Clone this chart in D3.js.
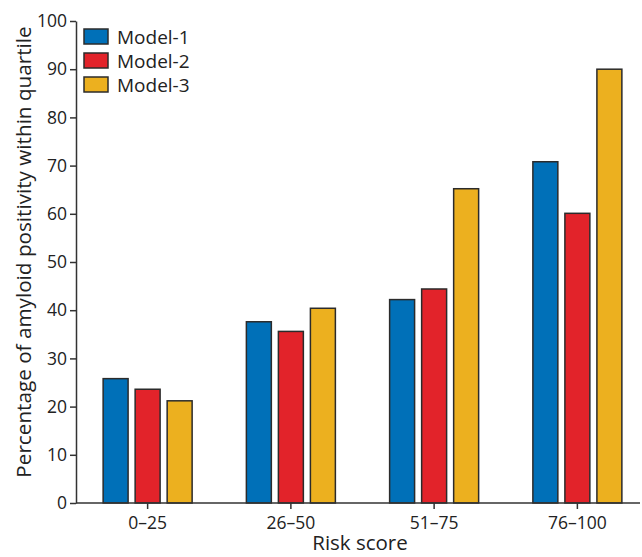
<!DOCTYPE html>
<html><head><meta charset="utf-8">
<script src="https://cdn.jsdelivr.net/npm/d3@7"></script>
<style>body{margin:0;background:#fff}svg{display:block;font-family:"Open Sans",sans-serif}</style>
</head><body><svg id="c" width="642" height="557"></svg>
<script>
const categories = ["0–25","26–50","51–75","76–100"];
const seriesNames = ["Model-1","Model-2","Model-3"];
const model1 = [25.8, 37.6, 42.2, 70.8];
const model2 = [23.6, 35.6, 44.4, 60.1];
const model3 = [21.2, 40.4, 65.2, 90.0];
const yTicks = [0,10,20,30,40,50,60,70,80,90,100];
const colors = ["#0070b8","#e2232a","#ecb01f"];
const series = [model1, model2, model3];

const svg = d3.select("#c");
const axisColor = "#333";
const x0 = d3.scaleBand().domain(categories).range([76, 649]).padding(0);
const x1 = d3.scaleBand().domain(seriesNames).range([0, 89]).paddingInner(0.22).paddingOuter(0);
const y = d3.scaleLinear().domain([0,100]).range([503, 21]);

const groups = svg.append("g").selectAll("g").data(categories).join("g")
  .attr("transform", c => `translate(${x0(c) + x0.bandwidth()/2 - 44.5},0)`);
groups.selectAll("rect").data((c,i) => seriesNames.map((s,j) => ({s, j, v: series[j][i]})))
  .join("rect")
  .attr("x", d => x1(d.s)).attr("width", x1.bandwidth())
  .attr("y", d => y(d.v)).attr("height", d => y(0) - y(d.v))
  .attr("fill", d => colors[d.j]).attr("stroke", "#2b2b2b").attr("stroke-width", 1.5);

// y axis
const ya = svg.append("g").attr("transform","translate(76,0)")
  .call(d3.axisLeft(y).tickValues(yTicks).tickSize(6).tickPadding(3).tickSizeOuter(0));
ya.select(".domain").attr("stroke", axisColor).attr("stroke-width", 1.5);
ya.selectAll(".tick line").attr("stroke", axisColor).attr("stroke-width", 1.5);
ya.selectAll("text").attr("font-size", 17.5).attr("fill", "#222").attr("font-family","Open Sans");

// x axis
const xa = svg.append("g").attr("transform","translate(0,503)")
  .call(d3.axisBottom(x0).tickSize(6).tickPadding(8).tickSizeOuter(0));
xa.select(".domain").attr("stroke", axisColor).attr("stroke-width", 1.5).attr("d","M76,0H640");
xa.selectAll(".tick line").attr("stroke", axisColor).attr("stroke-width", 1.5);
xa.selectAll("text").attr("font-size", 17.5).attr("fill", "#222").attr("font-family","Open Sans");

// titles
svg.append("text").attr("x", 360).attr("y", 550).attr("text-anchor","middle")
  .attr("font-size", 20.5).attr("fill","#222").text("Risk score");
svg.append("text").attr("transform","translate(31,252) rotate(-90)").attr("text-anchor","middle")
  .attr("font-size", 20.7).attr("fill","#222").text("Percentage of amyloid positivity within quartile");

// legend
const lg = svg.append("g").selectAll("g").data(seriesNames).join("g")
  .attr("transform", (d,i) => `translate(84,${29 + i*24})`);
lg.append("rect").attr("width", 24).attr("height", 15)
  .attr("fill", (d,i) => colors[i]).attr("stroke","#2b2b2b").attr("stroke-width",1.5);
lg.append("text").attr("x", 33).attr("y", 14.5).attr("font-size", 19).attr("fill","#222").text(d => d);
</script></body></html>
